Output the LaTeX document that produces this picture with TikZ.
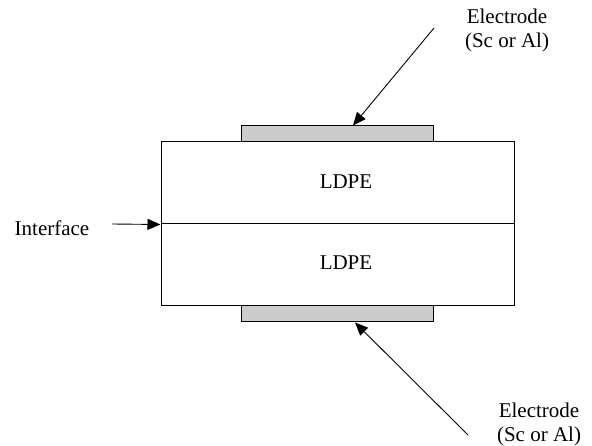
\documentclass[tikz,border=0pt]{standalone}
\usepackage{fontspec}
\setmainfont{Liberation Serif}
\usetikzlibrary{arrows.meta, positioning}

\begin{document}
\begin{tikzpicture}[
  x=1pt, y=-1pt,
  every node/.style={font=\fontsize{21}{24}\selectfont},
  layer/.style={rectangle, draw=black, line width=1pt, minimum width=353pt, minimum height=82pt, inner sep=0pt},
  electrode/.style={rectangle, draw=black, line width=1pt, fill=gray!40, minimum width=192pt, minimum height=16pt, inner sep=0pt},
  lbl/.style={align=center, inner sep=0pt},
  arr/.style={-{Triangle[length=13pt,width=11pt]}, line width=0.9pt},
]
\useasboundingbox (0,0) rectangle (592,446);

\node[layer] (top) at (337.5,183) {};
\node[layer] (bot) at (337.5,265) {};
\node[lbl] (topTxt) at (346,182) {LDPE};
\node[lbl] (botTxt) at (346,263) {LDPE};

\node[electrode] (elTop) at (337,134) {};
\node[electrode] (elBot) at (337,314) {};

\node[lbl] (intTxt) at (52,228) {Interface};
\node[lbl] (elTopTxt) at (507,30) {Electrode\\(Sc or Al)};
\node[lbl] (elBotTxt) at (539,424) {Electrode\\(Sc or Al)};

\coordinate (intTail) at (112,224);
\coordinate (topTail) at (434,28);
\coordinate (botTail) at (468,435);

\draw[arr] (intTail) -- (top.south west);
\draw[arr] (topTail) -- ([xshift=16pt]elTop.north);
\draw[arr] (botTail) -- ([xshift=18pt]elBot.south);
\end{tikzpicture}
\end{document}
